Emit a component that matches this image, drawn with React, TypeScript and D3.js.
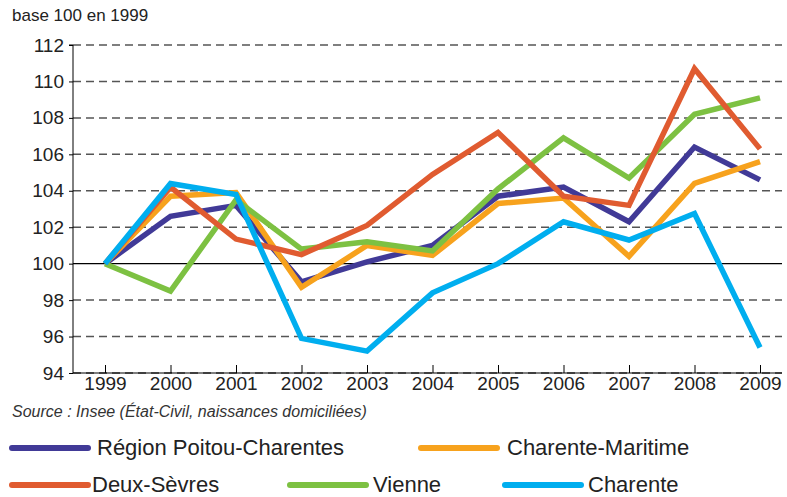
import React, { useRef, useEffect } from 'react';
import * as d3 from 'd3';

const years = ['1999', '2000', '2001', '2002', '2003', '2004', '2005', '2006', '2007', '2008', '2009'];
const yTicks = [94, 96, 98, 100, 102, 104, 106, 108, 110, 112];

const region = [100, 102.6, 103.2, 99.0, 100.1, 101.0, 103.7, 104.2, 102.3, 106.4, 104.6];
const charenteMaritime = [100, 103.7, 103.9, 98.7, 101.0, 100.45, 103.3, 103.6, 100.4, 104.4, 105.6];
const deuxSevres = [100, 104.2, 101.35, 100.5, 102.1, 104.9, 107.2, 103.7, 103.2, 110.7, 106.3];
const vienne = [100, 98.5, 103.5, 100.8, 101.2, 100.7, 104.1, 106.9, 104.7, 108.2, 109.1];
const charente = [100, 104.4, 103.8, 95.9, 95.2, 98.4, 100.0, 102.3, 101.3, 102.75, 95.4];

const series = [
  { name: 'Région Poitou-Charentes', values: region, color: '#413a97' },
  { name: 'Charente-Maritime', values: charenteMaritime, color: '#f7a21d' },
  { name: 'Vienne', values: vienne, color: '#7dc142' },
  { name: 'Deux-Sèvres', values: deuxSevres, color: '#e05b30' },
  { name: 'Charente', values: charente, color: '#00aeef' },
];

// legend placement: [series name, line x, text x, row y]
const legendItems: [string, number, number, number][] = [
  ['Région Poitou-Charentes', 12, 97, 448],
  ['Charente-Maritime', 421, 507, 448],
  ['Deux-Sèvres', 12, 92, 485],
  ['Vienne', 290, 373, 485],
  ['Charente', 505, 588, 485],
];

const W = 787;
const H = 497;
const font = 'Liberation Sans, Arial, sans-serif';

export default function App() {
  const svgRef = useRef<SVGSVGElement>(null);

  useEffect(() => {
    const svg = d3.select(svgRef.current);
    svg.selectAll('*').remove();

    const left = 73;
    const right = 782;
    const x = d3.scalePoint().domain(years).range([105, 760]);
    const y = d3.scaleLinear().domain([94, 112]).range([373, 45]);

    // unit label
    svg.append('text')
      .attr('x', 12).attr('y', 21)
      .style('font-family', font).style('font-size', '17px').attr('fill', '#222')
      .text('base 100 en 1999');

    // gridlines
    yTicks.forEach((t) => {
      svg.append('line')
        .attr('x1', left).attr('x2', right)
        .attr('y1', y(t)).attr('y2', y(t))
        .attr('stroke', t === 100 ? '#000' : '#555')
        .attr('stroke-width', t === 100 ? 1.2 : 1.5)
        .attr('stroke-dasharray', t === 100 ? null : '8,5');
    });

    // y axis
    const yAxis = svg.append('g')
      .attr('transform', `translate(${left},0)`)
      .call(d3.axisLeft(y).tickValues(yTicks).tickSize(4).tickPadding(5).tickFormat(d3.format('d')));
    yAxis.select('.domain').attr('stroke', '#000').attr('d', `M-4,${y(112)}H0V${y(94)}`);
    yAxis.selectAll('text').style('font-family', font).style('font-size', '19px').attr('fill', '#222');

    // bottom axis line with upward ticks
    svg.append('line')
      .attr('x1', left).attr('x2', right).attr('y1', y(94)).attr('y2', y(94))
      .attr('stroke', '#000').attr('stroke-width', 1.2);
    const xAxis = svg.append('g')
      .attr('transform', `translate(0,${y(94)})`)
      .call(d3.axisBottom(x).tickSizeInner(-8).tickSizeOuter(0).tickPadding(4));
    xAxis.select('.domain').remove();
    xAxis.selectAll('line').attr('stroke', '#000');
    xAxis.selectAll('text').style('font-family', font).style('font-size', '19px').attr('fill', '#222');

    // series lines
    const line = d3.line<number>()
      .x((_, i) => x(years[i]) as number)
      .y((d) => y(d));
    series.forEach((s) => {
      svg.append('path')
        .datum(s.values)
        .attr('fill', 'none')
        .attr('stroke', s.color)
        .attr('stroke-width', 5.5)
        .attr('stroke-linejoin', 'miter')
        .attr('d', line);
    });

    // source
    svg.append('text')
      .attr('x', 12).attr('y', 417)
      .style('font-family', font).style('font-size', '16px').style('font-style', 'italic')
      .attr('fill', '#333')
      .text('Source : Insee (État-Civil, naissances domiciliées)');

    // legend
    legendItems.forEach(([name, lx, tx, ly]) => {
      const s = series.find((d) => d.name === name)!;
      svg.append('line')
        .attr('x1', lx).attr('x2', lx + 76).attr('y1', ly).attr('y2', ly)
        .attr('stroke', s.color).attr('stroke-width', 6).attr('stroke-linecap', 'round');
      svg.append('text')
        .attr('x', tx).attr('y', ly + 7)
        .style('font-family', font).style('font-size', '22px').attr('fill', '#222')
        .text(name);
    });
  }, []);

  return (
    <svg
      ref={svgRef}
      width={W}
      height={H}
      style={{ position: 'absolute', left: 0, top: 0, background: '#fff' }}
    />
  );
}
